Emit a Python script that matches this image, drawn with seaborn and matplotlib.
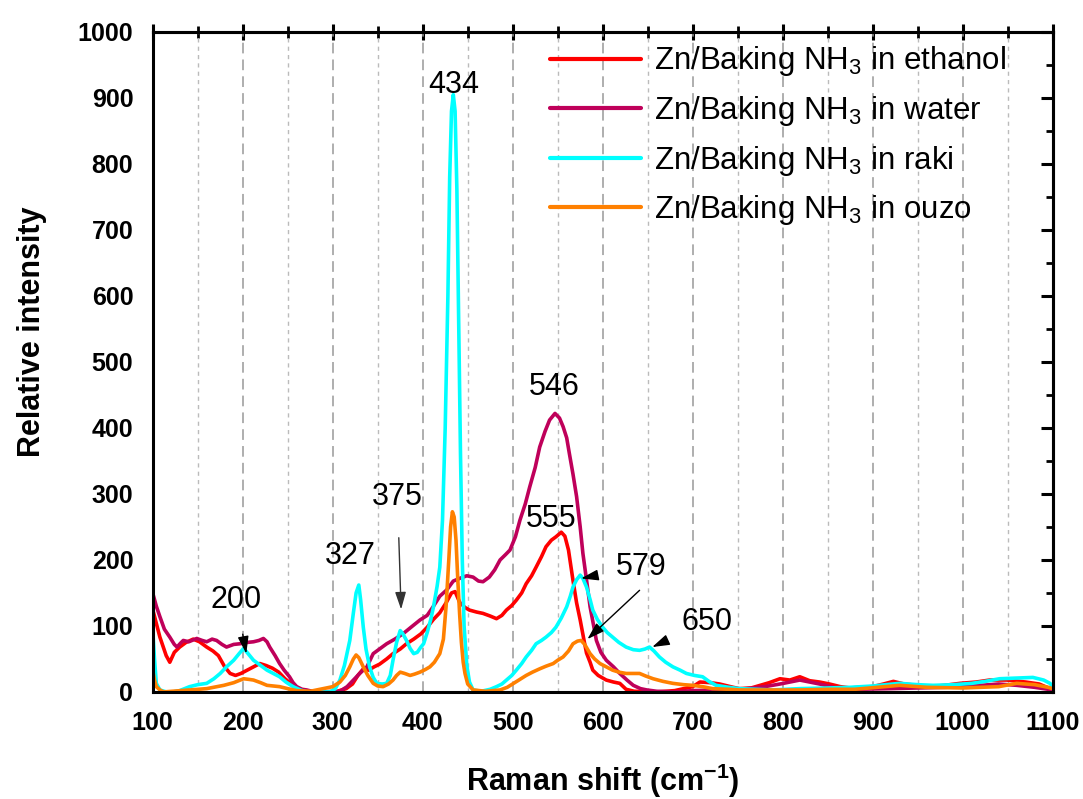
import numpy as np
import pandas as pd
import seaborn as sns
import matplotlib.pyplot as plt
from matplotlib.ticker import MultipleLocator

sns.set_theme(style="white")
plt.rcParams['font.family'] = ['Liberation Sans', 'DejaVu Sans']
plt.rcParams['mathtext.fontset'] = 'custom'
plt.rcParams['mathtext.rm'] = 'Liberation Sans'
plt.rcParams['mathtext.it'] = 'Liberation Sans:italic'
plt.rcParams['mathtext.bf'] = 'Liberation Sans:bold'
for k in ['text.color', 'axes.labelcolor', 'xtick.color', 'ytick.color']:
    plt.rcParams[k] = 'black'

# Raman spectra (shift in cm-1, relative intensity)
x_ethanol = [100, 108, 115, 119, 124, 130, 137, 145, 152, 160, 167, 173, 180, 186, 192, 198,
             205, 212, 219, 226, 233, 240, 247, 254, 260, 270, 285, 305, 315, 322, 328, 334,
             340, 346, 352, 360, 367, 375, 382, 390, 398, 405, 412, 419, 426, 432, 436, 441,
             447, 452, 460, 467, 475, 482, 488, 493, 499, 504, 510, 515, 521, 526, 532, 537,
             543, 548, 554, 558, 562, 567, 571, 575, 579, 582, 586, 589, 595, 604, 612, 619,
             626, 635, 660, 680, 700, 708, 720, 730, 745, 752, 765, 775, 785, 797, 808, 819,
             830, 841, 852, 864, 875, 886, 900, 912, 923, 935, 949, 965, 980, 997, 1015, 1030,
             1049, 1070, 1085, 1097, 1100]
y_ethanol = [125, 83, 55, 45, 60, 68, 75, 80, 76, 68, 62, 55, 38, 28, 25, 28,
             33, 38, 43, 40, 36, 30, 20, 12, 5, 2, 0, 1, 5, 12, 25, 35,
             33, 38, 42, 50, 58, 65, 73, 80, 88, 98, 110, 120, 135, 150, 152, 136,
             128, 124, 121, 119, 115, 111, 116, 124, 131, 139, 150, 164, 176, 189, 205, 220,
             230, 235, 242, 236, 215, 169, 135, 109, 80, 59, 45, 33, 25, 18, 15, 13,
             4, 1, 0, 2, 8, 15, 14, 12, 7, 5, 6, 10, 14, 20, 18, 23,
             17, 15, 12, 8, 6, 7, 8, 12, 16, 12, 10, 8, 10, 13, 15, 18,
             18, 15, 12, 5, 3]

x_water = [100, 104, 108, 113, 119, 124, 127, 131, 134, 140, 149, 155, 160, 166, 171, 177,
           182, 190, 197, 205, 212, 218, 223, 227, 230, 236, 241, 246, 252, 256, 260, 266,
           271, 280, 300, 308, 316, 323, 330, 338, 345, 352, 360, 369, 378, 387, 397, 405,
           412, 419, 427, 434, 441, 449, 456, 462, 467, 474, 480, 486, 492, 497, 503, 508,
           514, 519, 525, 530, 536, 541, 547, 552, 556, 560, 563, 567, 571, 575, 578, 582,
           586, 590, 593, 598, 604, 612, 619, 627, 634, 642, 649, 660, 680, 700, 730, 760,
           780, 797, 808, 819, 830, 841, 860, 880, 920, 950, 980, 1000, 1020, 1040, 1060, 1080,
           1100]
y_water = [150, 130, 114, 95, 83, 72, 68, 74, 78, 76, 81, 78, 76, 80, 78, 72,
           68, 72, 73, 75, 76, 78, 81, 76, 68, 55, 43, 33, 23, 14, 8, 4,
           3, 0, 0, 1, 8, 18, 28, 38, 58, 65, 73, 80, 88, 98, 109, 116,
           130, 145, 155, 168, 172, 176, 174, 168, 167, 174, 185, 200, 208, 215, 235, 260,
           285, 311, 340, 371, 395, 412, 422, 415, 402, 385, 361, 330, 296, 250, 210, 170,
           129, 100, 78, 60, 48, 38, 28, 18, 10, 5, 3, 1, 0, 2, 3, 5,
           8, 12, 15, 18, 15, 12, 6, 4, 5, 6, 7, 8, 10, 12, 10, 7,
           3]

x_raki = [100, 102, 104, 108, 115, 123, 130, 141, 150, 160, 168, 175, 182, 190, 196, 201,
          206, 212, 220, 227, 234, 241, 248, 256, 264, 271, 297, 303, 308, 313, 319, 323,
          326, 329, 331, 334, 337, 341, 345, 349, 355, 360, 364, 367, 371, 375, 378, 382,
          386, 390, 394, 398, 401, 405, 409, 412, 416, 419, 422, 425, 428, 430, 432, 434,
          436, 438, 440, 442, 444, 446, 449, 452, 456, 465, 475, 482, 488, 493, 499, 504,
          510, 515, 521, 526, 532, 537, 543, 548, 554, 560, 564, 567, 571, 575, 578, 582,
          586, 589, 594, 600, 605, 611, 618, 626, 634, 641, 647, 652, 657, 663, 670, 678,
          686, 693, 702, 711, 718, 726, 740, 752, 770, 789, 819, 850, 875, 900, 930, 950,
          967, 990, 1010, 1025, 1041, 1060, 1078, 1090, 1097, 1100]
y_raki = [95, 50, 13, 3, 0, 0, 2, 8, 11, 13, 20, 28, 38, 48, 58, 66,
          58, 48, 40, 33, 28, 23, 15, 8, 3, 0, 0, 5, 18, 40, 78, 120,
          150, 162, 140, 98, 65, 38, 22, 13, 12, 13, 25, 48, 75, 93, 88, 78,
          66, 58, 60, 68, 73, 90, 110, 129, 160, 189, 260, 400, 600, 780, 880, 905,
          880, 760, 560, 360, 200, 100, 40, 15, 3, 1, 4, 8, 12, 18, 25, 33,
          43, 53, 63, 73, 78, 83, 90, 98, 112, 129, 145, 159, 170, 177, 172, 159,
          140, 124, 110, 98, 90, 83, 75, 68, 64, 63, 65, 68, 62, 53, 45, 38,
          33, 28, 25, 23, 16, 10, 7, 5, 4, 3, 5, 6, 7, 9, 13, 11,
          10, 11, 13, 16, 20, 21, 22, 18, 13, 8]

x_ouzo = [100, 102, 104, 108, 112, 141, 160, 179, 190, 201, 207, 212, 220, 227, 234, 241,
          250, 260, 275, 293, 300, 308, 314, 319, 323, 326, 329, 334, 339, 345, 350, 356,
          362, 367, 371, 375, 380, 386, 391, 397, 403, 408, 413, 419, 423, 426, 429, 431,
          433, 435, 437, 439, 441, 443, 445, 447, 450, 456, 470, 486, 494, 501, 508, 515,
          522, 530, 537, 545, 550, 556, 562, 567, 572, 576, 580, 586, 591, 597, 604, 611,
          618, 626, 634, 641, 648, 656, 667, 678, 690, 700, 711, 722, 740, 752, 790, 820,
          850, 880, 930, 960, 1000, 1040, 1060, 1080, 1095, 1100]
y_ouzo = [33, 18, 8, 3, 0, 3, 5, 10, 14, 20, 19, 18, 14, 10, 9, 8,
          5, 2, 1, 6, 8, 15, 25, 38, 50, 56, 52, 38, 25, 13, 9, 8,
          12, 18, 25, 30, 28, 25, 27, 30, 34, 38, 45, 58, 80, 130, 200, 250,
          273, 265, 230, 170, 119, 75, 45, 28, 12, 3, 1, 3, 7, 13, 19, 25,
          30, 35, 39, 43, 48, 53, 62, 73, 77, 78, 72, 58, 50, 43, 38, 33,
          30, 28, 28, 28, 24, 20, 16, 13, 11, 10, 8, 5, 4, 3, 3, 3,
          4, 4, 10, 7, 6, 8, 13, 11, 7, 5]

labels = ["Zn/Baking NH$_3$ in ethanol", "Zn/Baking NH$_3$ in water",
          "Zn/Baking NH$_3$ in raki", "Zn/Baking NH$_3$ in ouzo"]
colors = ["#FF0000", "#BF005A", "#00FFFF", "#FF8000"]
xs = [x_ethanol, x_water, x_raki, x_ouzo]
ys = [y_ethanol, y_water, y_raki, y_ouzo]

fig, ax = plt.subplots(figsize=(10.83, 7.99), dpi=100)
fig.subplots_adjust(left=0.141, right=0.972, top=0.960, bottom=0.134)

for x, y, lab, c in zip(xs, ys, labels, colors):
    df = pd.DataFrame({'shift': x, 'intensity': y})
    sns.lineplot(data=df, x='shift', y='intensity', ax=ax, color=c, label=lab,
                 linewidth=2.6, sort=False, estimator=None)

ax.set_xlim(100, 1100)
ax.set_ylim(0, 1000)
ax.xaxis.set_major_locator(MultipleLocator(100))
ax.xaxis.set_minor_locator(MultipleLocator(50))
ax.yaxis.set_major_locator(MultipleLocator(100))
ax.yaxis.set_minor_locator(MultipleLocator(50))

# vertical dashed grid, no horizontal grid
ax.grid(False)
ax.xaxis.grid(True, which='major', color='#999999', linestyle=(0, (7, 4)), linewidth=1.1)
ax.xaxis.grid(True, which='minor', color='#BBBBBB', linestyle=(0, (3, 3)), linewidth=1.0)
ax.set_axisbelow(True)

for s in ax.spines.values():
    s.set_linewidth(2.2)
    s.set_color('black')

ax.tick_params(axis='both', which='major', direction='out', length=9, width=2.2,
               labelsize=18, color='black', pad=5)
ax.tick_params(axis='both', which='minor', direction='out', length=5, width=2.0, color='black')
for t in ax.get_xticklabels() + ax.get_yticklabels():
    t.set_fontweight('bold')

top = ax.secondary_xaxis('top')
top.xaxis.set_major_locator(MultipleLocator(100))
top.xaxis.set_minor_locator(MultipleLocator(50))
top.tick_params(which='major', direction='inout', length=12, width=2.2, labeltop=False)
top.tick_params(which='minor', direction='inout', length=8, width=2.0)
top.spines['top'].set_linewidth(2.2)
right = ax.secondary_yaxis('right')
right.yaxis.set_major_locator(MultipleLocator(100))
right.yaxis.set_minor_locator(MultipleLocator(50))
right.tick_params(which='major', direction='in', length=9, width=2.2, labelright=False)
right.tick_params(which='minor', direction='in', length=5, width=2.0)
right.spines['right'].set_linewidth(2.2)

ax.set_xlabel("Raman shift (cm$^{\\mathbf{-1}}$)", fontsize=22, fontweight='bold')
ax.set_ylabel("Relative intensity", fontsize=22, fontweight='bold')
ax.xaxis.set_label_coords(0.5, -0.105)
ax.yaxis.set_label_coords(-0.118, 0.545)

leg = ax.legend(loc='upper left', bbox_to_anchor=(0.428, 1.0), frameon=False,
                fontsize=22.5, handlelength=2.9, handletextpad=0.4, labelspacing=0.5,
                borderaxespad=0)
for h in leg.get_lines():
    h.set_linewidth(3)

# peak labels
afs = 22
head = '-|>,head_length=0.7,head_width=0.22'
ax.text(434, 920, "434", fontsize=afs, ha='center', va='center')
ax.text(546, 462, "546", fontsize=afs, ha='center', va='center')
ax.text(543, 262, "555", fontsize=afs, ha='center', va='center')
ax.text(319, 206, "327", fontsize=afs, ha='center', va='center')
ax.annotate("200", xy=(204, 58), xytext=(193, 140), fontsize=afs, ha='center', va='center',
            arrowprops=dict(arrowstyle=head, color='black', lw=1.0, mutation_scale=15,
                            shrinkA=12, shrinkB=0))
ax.annotate("375", xy=(376, 125), xytext=(372, 295), fontsize=afs, ha='center', va='center',
            arrowprops=dict(arrowstyle=head, color='#333333', lw=1.0, mutation_scale=15,
                            shrinkA=16, shrinkB=0))
ax.annotate("579", xy=(576, 172), xytext=(643, 190), fontsize=afs, ha='center', va='center',
            arrowprops=dict(arrowstyle=head, color='black', lw=1.0, mutation_scale=15,
                            shrinkA=18, shrinkB=0))
ax.annotate("", xy=(583, 80), xytext=(641, 154),
            arrowprops=dict(arrowstyle=head, color='black', lw=1.0, mutation_scale=15,
                            shrinkA=0, shrinkB=0))
ax.annotate("650", xy=(655, 68), xytext=(716, 106), fontsize=afs, ha='center', va='center',
            arrowprops=dict(arrowstyle=head, color='black', lw=1.0, mutation_scale=15,
                            shrinkA=18, shrinkB=0))

plt.savefig('out.png', dpi=100)
